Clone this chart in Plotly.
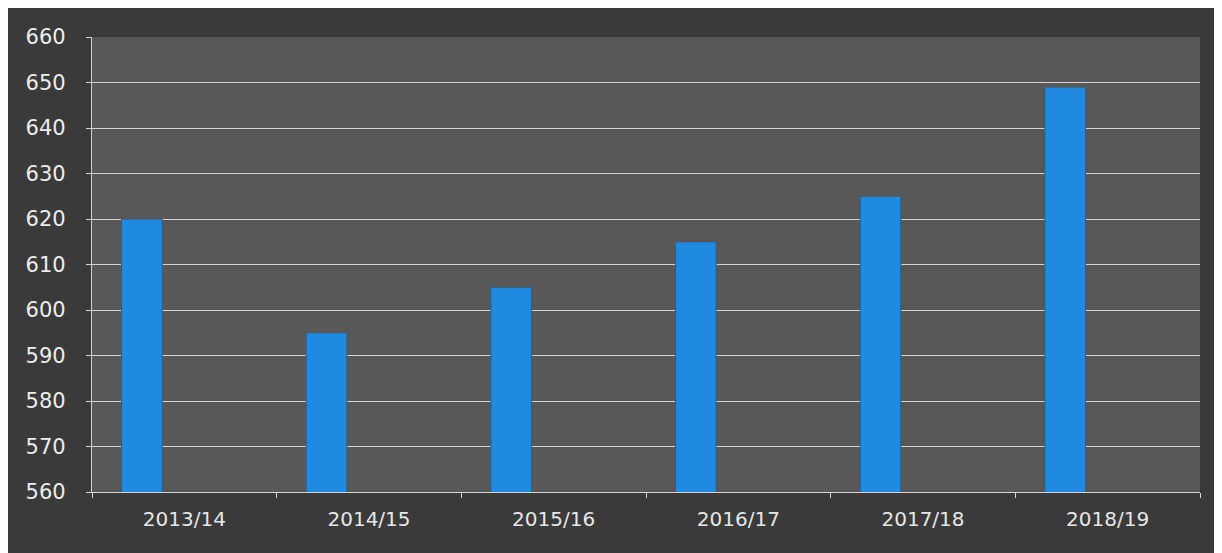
import plotly.graph_objects as go

categories = ["2013/14", "2014/15", "2015/16", "2016/17", "2017/18", "2018/19"]
values = [620, 595, 605, 615, 625, 649]
y_ticks = [560, 570, 580, 590, 600, 610, 620, 630, 640, 650, 660]

fig = go.Figure()
fig.add_trace(go.Bar(
    x=categories, y=values,
    marker=dict(color="#1f8ae0", line=dict(color="#2a5f8f", width=1)),
    width=0.22, offset=-0.34,
))

font_family = "'DejaVu Sans', sans-serif"
fig.update_layout(
    width=1214, height=545,
    margin=dict(l=84, r=22, t=29, b=61),
    paper_bgcolor="#3a3a3a",
    plot_bgcolor="#585858",
    showlegend=False,
    font=dict(family=font_family, size=20, color="#e6e6e6"),
)
fig.update_yaxes(
    range=[560, 660], tickvals=y_ticks,
    showgrid=True, gridcolor="#d4d4d4", gridwidth=1.2,
    showline=True, linecolor="#d4d4d4", linewidth=1.2,
    ticks="outside", ticklen=5, tickcolor="#d4d4d4",
    zeroline=False, ticklabelstandoff=16,
    tickfont=dict(size=21, color="#ececec"),
)
fig.update_xaxes(
    showgrid=False,
    showline=True, linecolor="#d4d4d4", linewidth=1.2,
    ticks="outside", tickson="boundaries", ticklen=5, tickcolor="#d4d4d4",
    ticklabelstandoff=9,
    tickfont=dict(size=20, color="#e6e6e6"),
)

fig.write_html("out.html")
